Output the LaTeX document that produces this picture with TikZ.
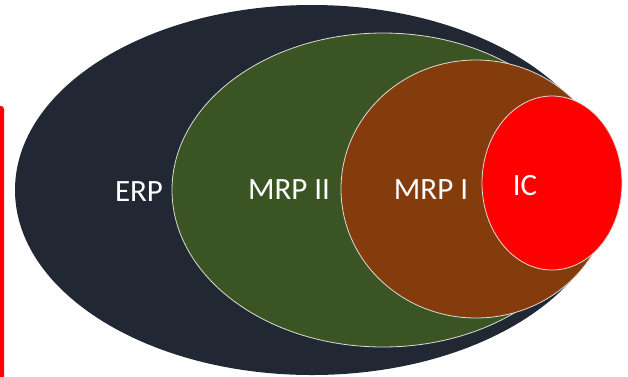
\documentclass[tikz,border=0pt]{standalone}
\usepackage{fontspec}
\setmainfont{Carlito}
\definecolor{erpc}{HTML}{212733}
\definecolor{mrp2c}{HTML}{3A5424}
\definecolor{mrp1c}{HTML}{843C0C}
\definecolor{icc}{HTML}{FF0000}
\definecolor{rimc}{HTML}{DCDCD4}
\tikzset{
  ring/.style={draw=rimc, line width=0.8pt},
  lbl/.style={text=white, font=\fontsize{31}{31}\selectfont, inner sep=0pt}
}
\begin{document}
\begin{tikzpicture}[x=1pt,y=-1pt]
\useasboundingbox (0,0) rectangle (628,376);
% red side bar
\fill[icc, rounded corners=3pt] (-4,106) rectangle (4,384);
% nested sets
\fill[erpc] (312,190) ellipse [x radius=297, y radius=185];
\filldraw[mrp2c, ring] (383,190) ellipse [x radius=211, y radius=157];
\filldraw[mrp1c, ring] (476,189) ellipse [x radius=135, y radius=129];
\filldraw[icc, ring] (552,183) ellipse [x radius=70, y radius=87];
% labels
\node[lbl] (erp) at (139,192) {ERP};
\node[lbl] (mrpii) at (289,190) {MRP II};
\node[lbl] (mrpi) at (431,190) {MRP I};
\node[lbl] (ic) at (525,186) {IC};
\end{tikzpicture}
\end{document}
